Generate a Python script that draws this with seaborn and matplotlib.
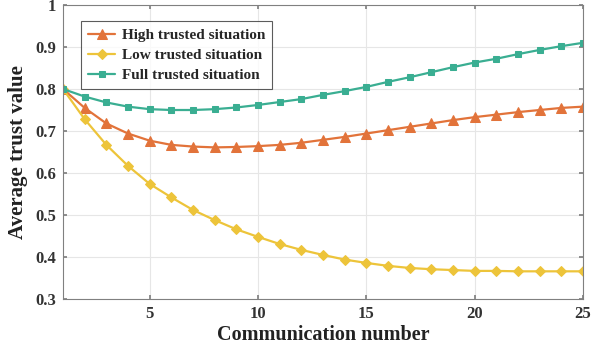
import matplotlib
matplotlib.use("Agg")
import matplotlib.pyplot as plt
import seaborn as sns
import pandas as pd

x = list(range(1, 26))
high = [0.800, 0.755, 0.718, 0.694, 0.677, 0.667, 0.663, 0.661, 0.662, 0.664,
        0.667, 0.672, 0.679, 0.686, 0.694, 0.702, 0.710, 0.718, 0.726, 0.733,
        0.739, 0.745, 0.750, 0.755, 0.758]
low = [0.800, 0.728, 0.667, 0.617, 0.574, 0.542, 0.512, 0.488, 0.466, 0.448,
       0.431, 0.417, 0.405, 0.394, 0.386, 0.379, 0.374, 0.371, 0.369, 0.367,
       0.367, 0.366, 0.366, 0.366, 0.366]
full = [0.800, 0.782, 0.768, 0.758, 0.752, 0.750, 0.750, 0.752, 0.756, 0.762,
        0.769, 0.776, 0.786, 0.795, 0.805, 0.817, 0.828, 0.840, 0.852, 0.863,
        0.872, 0.883, 0.893, 0.902, 0.910]
labels = ["High trusted situation", "Low trusted situation", "Full trusted situation"]
colors = ["#E2733A", "#EDC43A", "#3AAE92"]
markers = ["^", "D", "s"]
msizes = [7, 5, 5]

sns.set_theme(style="white")
plt.rcParams['font.family'] = ['Liberation Serif', 'DejaVu Serif']
plt.rcParams['font.weight'] = 'bold'

fig = plt.figure(figsize=(6.07, 3.51), dpi=100)
ax = fig.add_axes([0.1038, 0.148, 0.8567, 0.8378])

df = pd.DataFrame({"x": x * 3, "y": high + low + full,
                   "s": [labels[0]] * 25 + [labels[1]] * 25 + [labels[2]] * 25})
for i, (lab, c, m, ms) in enumerate(zip(labels, colors, markers, msizes)):
    sub = df[df.s == lab]
    sns.lineplot(data=sub, x="x", y="y", ax=ax, color=c, marker=m, markersize=ms,
                 markeredgecolor=c, linewidth=1.6, label=lab)

ax.set_xlim(1, 25)
ax.set_ylim(0.3, 1.0)
ax.set_xticks([5, 10, 15, 20, 25])
ax.set_yticks([0.3, 0.4, 0.5, 0.6, 0.7, 0.8, 0.9, 1.0])
ax.set_yticklabels(["0.3", "0.4", "0.5", "0.6", "0.7", "0.8", "0.9", "1"])
ax.grid(True, color="#E6E6E6", linewidth=0.8)
for s in ax.spines.values():
    s.set_color("#808080")
    s.set_linewidth(0.8)
ax.tick_params(direction="in", length=3, color="#808080", labelsize=12,
               top=True, right=True, bottom=True, left=True, pad=5)
for t in ax.get_xticklabels() + ax.get_yticklabels():
    t.set_fontweight("bold")
    t.set_color("#333333")
ax.set_xlabel("Communication number", fontsize=14.5, fontweight="bold", color="#222222", labelpad=2)
ax.set_ylabel("Average trust value", fontsize=15, fontweight="bold", color="#222222", labelpad=5)

leg = ax.legend(loc="upper left", bbox_to_anchor=(0.02, 0.97), fontsize=11,
                frameon=True, fancybox=False, edgecolor="#333333", borderpad=0.45,
                labelspacing=0.42, handlelength=1.8, handletextpad=0.4)
leg.get_frame().set_linewidth(0.8)
for t in leg.get_texts():
    t.set_fontweight("bold")

fig.savefig("out.png", dpi=100)
